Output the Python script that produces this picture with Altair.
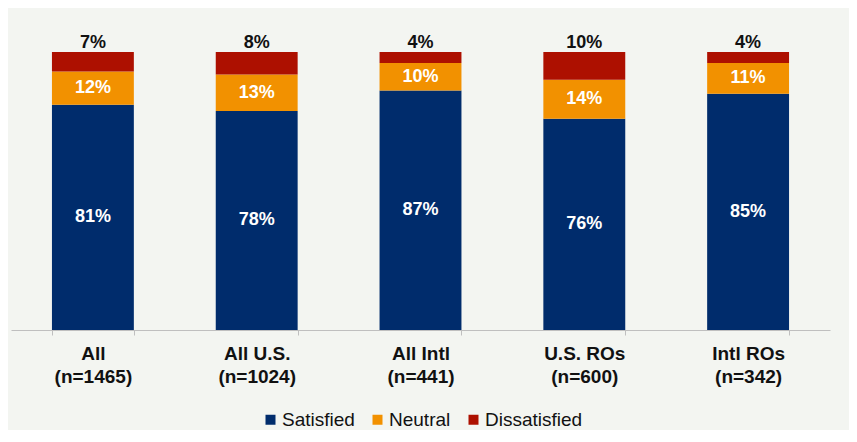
import altair as alt
import pandas as pd

categories = ["All", "All U.S.", "All Intl", "U.S. ROs", "Intl ROs"]
sample_sizes = [1465, 1024, 441, 600, 342]
statuses = ["Satisfied", "Neutral", "Dissatisfied"]
satisfied = [81, 78, 87, 76, 85]
neutral = [12, 13, 10, 14, 11]
dissatisfied = [7, 8, 4, 10, 4]
colors = ["#002C6C", "#F29100", "#AD1000"]

cat_labels = [f"{c}|(n={n})" for c, n in zip(categories, sample_sizes)]
rows = []
for i, cl in enumerate(cat_labels):
    for j, (s, vals) in enumerate(zip(statuses, [satisfied, neutral, dissatisfied])):
        rows.append({"cat": cl, "status": s, "value": vals[i], "order": j})
df = pd.DataFrame(rows)

FONT = "Liberation Sans"
D = 322 / 278

base = alt.Chart(df).transform_stack(
    stack="value", groupby=["cat"], sort=[alt.SortField("order", order="ascending")],
    as_=["y0", "y1"], offset="normalize"
).transform_calculate(mid="(datum.y0 + datum.y1) / 2", label="datum.value + '%'")

x_enc = alt.X(
    "cat:N", sort=cat_labels, title=None,
    scale=alt.Scale(paddingInner=0.5, paddingOuter=0.25),
    axis=alt.Axis(
        labelExpr="split(datum.label, '|')", labelAngle=0,
        labelFont=FONT, labelFontSize=19, labelFontWeight="bold", labelColor="#111111",
        labelLineHeight=23, labelPadding=9, tickBand="extent",
        domainColor="#BFBFBF", tickColor="#BFBFBF", tickSize=5, grid=False,
    ),
)
y_scale = alt.Scale(domain=[0, D], nice=False, zero=True)

bars = base.mark_bar().encode(
    x=x_enc,
    y=alt.Y("y0:Q", scale=y_scale, axis=None),
    y2="y1:Q",
    color=alt.Color(
        "status:N",
        scale=alt.Scale(domain=statuses, range=colors),
        legend=alt.Legend(
            title=None, orient="none", direction="horizontal", legendX=250, legendY=402,
            symbolType="square", symbolSize=100, symbolStrokeWidth=0,
            labelFont=FONT, labelFontSize=19, labelColor="#111111",
            labelOffset=2, columnPadding=13,
        ),
    ),
    order=alt.Order("order:Q"),
)

inner = base.transform_filter("datum.status != 'Dissatisfied'").mark_text(
    color="white", font=FONT, fontSize=18, fontWeight="bold", baseline="middle"
).encode(x=alt.X("cat:N", sort=cat_labels), y=alt.Y("mid:Q", scale=y_scale), text="label:N")

top = base.transform_filter("datum.status == 'Dissatisfied'").mark_text(
    color="#111111", font=FONT, fontSize=18, fontWeight="bold", baseline="bottom", dy=0
).encode(x=alt.X("cat:N", sort=cat_labels), y=alt.Y("y1:Q", scale=y_scale), text="label:N")

chart = alt.layer(bars, inner, top).properties(
    width=819, height=322,
    padding={"left": 3, "top": 0, "right": 19, "bottom": 0},
    background="#F3F5F1",
).configure_view(stroke=None)

chart.save("out.html", embed_options={"renderer": "svg", "actions": False})
